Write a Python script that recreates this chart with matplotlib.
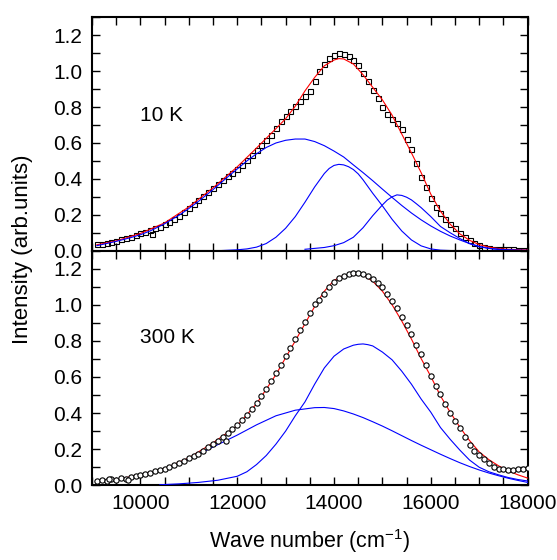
import matplotlib
matplotlib.use('Agg')
import matplotlib.pyplot as plt
from matplotlib.ticker import MultipleLocator, FormatStrFormatter

# ---------------- data ----------------
# 10 K panel: measured spectrum (open squares)
wn_10K = list(range(9100, 18001, 100))
int_10K = [0.036, 0.040, 0.045, 0.050, 0.056, 0.063, 0.070, 0.078, 0.087, 0.097,
           0.106, 0.115, 0.124, 0.134, 0.146, 0.160, 0.176, 0.194, 0.216, 0.240,
           0.262, 0.285, 0.306, 0.327, 0.348, 0.371, 0.393, 0.414, 0.434, 0.455,
           0.478, 0.503, 0.533, 0.562, 0.590, 0.615, 0.645, 0.684, 0.722, 0.752,
           0.780, 0.808, 0.836, 0.862, 0.892, 0.945, 1.000, 1.040, 1.072, 1.092,
           1.101, 1.098, 1.085, 1.063, 1.033, 0.990, 0.945, 0.893, 0.850, 0.800,
           0.762, 0.735, 0.710, 0.680, 0.622, 0.565, 0.490, 0.413, 0.355, 0.296,
           0.245, 0.208, 0.175, 0.150, 0.125, 0.098, 0.077, 0.058, 0.043, 0.030,
           0.020, 0.014, 0.010, 0.008, 0.008, 0.007, 0.007, 0.006, 0.006, 0.006]
out_wn_10K = [10240]
out_int_10K = [0.094]

# 10 K fit (red) and components (blue)
fit_wn_10K = [9100, 9500, 10000, 10500, 11000, 11500, 12000, 12400, 12800, 13000,
              13200, 13400, 13600, 13800, 14000, 14100, 14200, 14400, 14600, 14800,
              15000, 15200, 15400, 15600, 15800, 16000, 16200, 16400, 16600, 16800,
              17000, 17200, 17400, 17600, 17800, 18000]
fit_10K = [0.033, 0.055, 0.096, 0.155, 0.244, 0.350, 0.467, 0.572, 0.680, 0.735,
           0.805, 0.890, 0.965, 1.030, 1.062, 1.070, 1.068, 1.040, 0.980, 0.910,
           0.840, 0.755, 0.650, 0.545, 0.435, 0.315, 0.220, 0.148, 0.094, 0.058,
           0.034, 0.020, 0.012, 0.008, 0.006, 0.004]

c1_wn_10K = [9100, 9500, 9800, 10000, 10200, 10500, 10800, 11000, 11200, 11500,
             11800, 12000, 12200, 12400, 12600, 12800, 13000, 13200, 13400, 13600,
             13800, 14000, 14200, 14400, 14600, 14800, 15000, 15200, 15400, 15600,
             15800, 16000, 16200, 16400, 16600, 16800, 17000, 17200, 17400, 17600,
             17800, 18000]
c1_10K = [0.028, 0.052, 0.073, 0.089, 0.110, 0.150, 0.198, 0.235, 0.275, 0.340,
          0.410, 0.455, 0.500, 0.540, 0.575, 0.600, 0.615, 0.622, 0.622, 0.608,
          0.585, 0.555, 0.522, 0.478, 0.435, 0.390, 0.343, 0.297, 0.252, 0.210,
          0.172, 0.138, 0.108, 0.082, 0.060, 0.040, 0.024, 0.013, 0.007, 0.004,
          0.002, 0.001]

c2_wn_10K = [11600, 12000, 12200, 12400, 12600, 12800, 13000, 13200, 13400, 13600,
             13800, 13900, 14000, 14100, 14200, 14300, 14400, 14500, 14600, 14800,
             15000, 15200, 15400, 15600, 15800, 16000, 16200, 16500]
c2_10K = [0.0, 0.005, 0.010, 0.020, 0.040, 0.075, 0.125, 0.190, 0.270, 0.355,
          0.430, 0.458, 0.475, 0.481, 0.478, 0.468, 0.452, 0.428, 0.395, 0.320,
          0.250, 0.175, 0.110, 0.060, 0.027, 0.010, 0.003, 0.0]

c3_wn_10K = [13400, 13800, 14000, 14200, 14400, 14600, 14800, 15000, 15100, 15200,
             15300, 15400, 15500, 15600, 15700, 15800, 16000, 16200, 16400, 16600,
             16800, 17000, 17200, 17400, 17600, 17800, 18000]
c3_10K = [0.008, 0.018, 0.028, 0.045, 0.075, 0.128, 0.195, 0.255, 0.282, 0.300,
          0.311, 0.308, 0.298, 0.283, 0.262, 0.240, 0.190, 0.135, 0.100, 0.068,
          0.040, 0.022, 0.013, 0.008, 0.005, 0.003, 0.002]

# 300 K panel: measured spectrum (open circles)
wn_300K = list(range(9100, 18001, 100))
int_300K = [0.025, 0.030, 0.022, 0.036, 0.030, 0.040, 0.035, 0.047, 0.050, 0.058,
            0.062, 0.070, 0.077, 0.084, 0.090, 0.100, 0.110, 0.122, 0.136, 0.150,
            0.162, 0.176, 0.192, 0.210, 0.228, 0.248, 0.270, 0.290, 0.312, 0.336,
            0.362, 0.390, 0.422, 0.455, 0.493, 0.535, 0.578, 0.622, 0.668, 0.714,
            0.762, 0.810, 0.860, 0.905, 0.955, 1.005, 1.025, 1.060, 1.100, 1.125,
            1.146, 1.160, 1.170, 1.175, 1.176, 1.172, 1.160, 1.143, 1.122, 1.096,
            1.062, 1.022, 0.980, 0.932, 0.887, 0.836, 0.775, 0.728, 0.668, 0.605,
            0.548, 0.503, 0.452, 0.398, 0.357, 0.318, 0.268, 0.225, 0.192, 0.166,
            0.147, 0.122, 0.104, 0.093, 0.088, 0.087, 0.087, 0.088, 0.092, 0.096]
out_wn_300K = [9350, 9750, 11760]
out_int_300K = [0.035, 0.028, 0.247]

fit_wn_300K = [9100, 9500, 10000, 10500, 11000, 11500, 12000, 12400, 12800, 13200,
               13600, 13800, 14000, 14200, 14400, 14600, 14800, 15000, 15200, 15400,
               15600, 15800, 16000, 16200, 16400, 16600, 16800, 17000, 17200, 17400,
               17600, 17800, 18000]
fit_300K = [0.022, 0.034, 0.056, 0.093, 0.152, 0.235, 0.330, 0.452, 0.613, 0.800,
            0.990, 1.075, 1.135, 1.163, 1.172, 1.165, 1.130, 1.075, 1.000, 0.910,
            0.810, 0.702, 0.603, 0.495, 0.405, 0.322, 0.248, 0.185, 0.142, 0.108,
            0.080, 0.058, 0.040]

c1_wn_300K = [9100, 9500, 10000, 10500, 11000, 11500, 12000, 12400, 12800, 13200,
              13600, 13800, 14000, 14200, 14400, 14600, 14800, 15000, 15200, 15400,
              15600, 15800, 16000, 16200, 16400, 16600, 16800, 17000, 17200, 17400,
              17600, 17800, 18000]
c1_300K = [0.020, 0.032, 0.054, 0.090, 0.145, 0.212, 0.278, 0.335, 0.385, 0.416,
           0.430, 0.431, 0.425, 0.412, 0.395, 0.375, 0.352, 0.328, 0.302, 0.275,
           0.248, 0.222, 0.197, 0.172, 0.148, 0.125, 0.104, 0.085, 0.068, 0.053,
           0.039, 0.027, 0.016]

c2_wn_300K = [10400, 10800, 11200, 11600, 12000, 12200, 12400, 12600, 12800, 13000,
              13200, 13400, 13600, 13800, 14000, 14200, 14400, 14500, 14600, 14700,
              14800, 15000, 15200, 15400, 15600, 15800, 16000, 16200, 16400, 16600,
              16800, 17000, 17200, 17400, 17600, 17800, 18000]
c2_300K = [0.003, 0.008, 0.016, 0.028, 0.050, 0.075, 0.115, 0.165, 0.228, 0.300,
           0.385, 0.462, 0.560, 0.650, 0.715, 0.755, 0.776, 0.781, 0.783, 0.779,
           0.772, 0.738, 0.695, 0.632, 0.560, 0.478, 0.405, 0.320, 0.255, 0.195,
           0.140, 0.100, 0.075, 0.058, 0.043, 0.032, 0.024]

labels = ['10 K', '300 K']
x_ticks = [10000, 12000, 14000, 16000, 18000]

# ---------------- figure ----------------
plt.rcParams['font.family'] = ['Liberation Sans', 'DejaVu Sans']
plt.rcParams['mathtext.default'] = 'regular'

fig = plt.figure(figsize=(5.57, 5.60), dpi=100)
ax1 = fig.add_axes([0.1652, 0.5523, 0.782, 0.4168])
ax2 = fig.add_axes([0.1652, 0.1334, 0.782, 0.4191])

RED = '#ff0000'
BLUE = '#0000ff'
LW = 0.8

for ax in (ax1, ax2):
    ax.set_xlim(9000, 18000)
    ax.set_ylim(0, 1.3)
    ax.set_xticks(x_ticks)
    ax.xaxis.set_minor_locator(MultipleLocator(500))
    ax.yaxis.set_major_locator(MultipleLocator(0.2))
    ax.yaxis.set_minor_locator(MultipleLocator(0.1))
    ax.yaxis.set_major_formatter(FormatStrFormatter('%.1f'))
    ax.tick_params(which='both', direction='in', top=True, right=True,
                   length=6, width=1.0, labelsize=15, pad=6)
    ax.tick_params(axis='y', pad=7)
    for s in ax.spines.values():
        s.set_linewidth(1.5)

# 10 K panel
ax1.plot(wn_10K, int_10K, ls='none', marker='s', ms=3.6, mfc='none',
         mec='black', mew=0.8, zorder=2)
ax1.plot(out_wn_10K, out_int_10K, ls='none', marker='s', ms=3.6, mfc='none',
         mec='black', mew=0.8, zorder=2)
ax1.plot(fit_wn_10K, fit_10K, color=RED, lw=LW, zorder=3)
ax1.plot(c1_wn_10K, c1_10K, color=BLUE, lw=LW, zorder=3.1)
ax1.plot(c2_wn_10K, c2_10K, color=BLUE, lw=LW, zorder=3.1)
ax1.plot(c3_wn_10K, c3_10K, color=BLUE, lw=LW, zorder=3.1)
ax1.tick_params(labelbottom=False)
ax1.text(10000, 0.72, labels[0], fontsize=15)

# 300 K panel
ax2.plot(fit_wn_300K, fit_300K, color=RED, lw=LW, zorder=3)
ax2.plot(c1_wn_300K, c1_300K, color=BLUE, lw=LW, zorder=3.1)
ax2.plot(c2_wn_300K, c2_300K, color=BLUE, lw=LW, zorder=3.1)
ax2.plot(wn_300K, int_300K, ls='none', marker='o', ms=3.8, mfc='white',
         mec='black', mew=0.8, zorder=4)
ax2.plot(out_wn_300K, out_int_300K, ls='none', marker='o', ms=3.8, mfc='white',
         mec='black', mew=0.8, zorder=4)
ax2.text(10000, 0.79, labels[1], fontsize=15)

fig.text(0.041, 0.555, 'Intensity (arb.units)', rotation=90, ha='center',
         va='center', fontsize=16)
fig.text(0.556, 0.022, 'Wave number (cm$^{-1}$)', ha='center', va='baseline',
         fontsize=15.5)

fig.savefig('out.png', dpi=100)
